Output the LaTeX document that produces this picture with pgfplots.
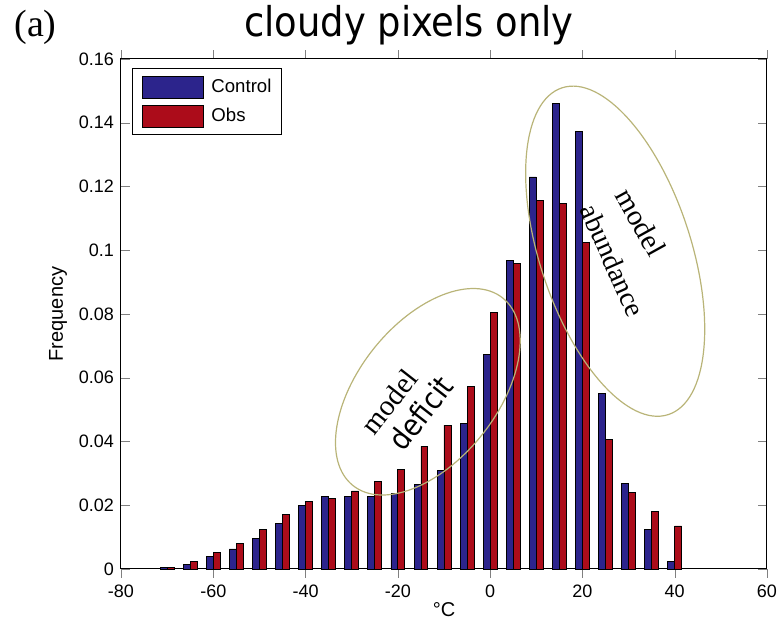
\documentclass[border=0pt]{standalone}
\usepackage{pgfplots}
\pgfplotsset{compat=1.18}
\usepackage{fontspec}
\setmainfont{Liberation Sans}
\newfontfamily\titlefont{DejaVu Sans Condensed}
\newfontfamily\timesfont{Liberation Serif}
\definecolor{cblue}{RGB}{44,36,140}
\definecolor{cred}{RGB}{172,12,26}
\definecolor{ellcol}{RGB}{185,180,120}
\begin{document}
\begin{tikzpicture}
\useasboundingbox (-60.5pt,-26pt) rectangle (328.5pt,284.5pt);
\begin{axis}[
  at={(0pt,0pt)}, anchor=south west,
  scale only axis, width=323pt, height=255pt,
  xmin=-80, xmax=60, ymin=0, ymax=0.16,
  xtick={-80,-60,-40,-20,0,20,40,60},
  ytick={0,0.02,0.04,0.06,0.08,0.1,0.12,0.14,0.16},
  scaled y ticks=false,
  yticklabel style={/pgf/number format/fixed,/pgf/number format/precision=2},
  /pgf/number format/assume math mode=true,
  tick label style={font=\fontsize{9}{10}\selectfont},
  label style={font=\fontsize{9.3}{10}\selectfont},
  xlabel={°C}, ylabel={Frequency},
  every axis x label/.style={at={(axis description cs:0.5,0)}, yshift=-20.5pt, anchor=center},
  every axis y label/.style={at={(axis description cs:0,0.5)}, xshift=-31.5pt, anchor=center, rotate=90},
  axis line style={line width=0.5pt},
  ybar, bar width=1.5,
  clip=false,
  legend style={at={(axis description cs:0.017,0.982)}, anchor=north west,
    draw=black, line width=0.5pt, inner xsep=5pt, inner ysep=3.5pt,
    row sep=3pt, column sep=3.5pt, nodes={inner sep=0pt},
    font=\fontsize{9.3}{10}\selectfont},
  legend cell align=left,
]
\addplot[fill=cblue, draw=black, line width=0.4pt, bar shift=-0.75,
  legend image code/.code={\draw[fill=cblue,draw=black,line width=0.5pt] (0pt,-5.5pt) rectangle (30.5pt,5.5pt);}]
coordinates {
(-70,0.0005) (-65,0.0015) (-60,0.0039) (-55,0.0063) (-50,0.0095) (-45,0.0144)
(-40,0.0198) (-35,0.0227) (-30,0.0227) (-25,0.0227) (-20,0.0236) (-15,0.0264)
(-10,0.0308) (-5,0.0458) (0,0.0672) (5,0.0968) (10,0.1230) (15,0.1461)
(20,0.1372) (25,0.0550) (30,0.0267) (35,0.0125) (40,0.0025)
};
\addplot[fill=cred, draw=black, line width=0.4pt, bar shift=0.75,
  legend image code/.code={\draw[fill=cred,draw=black,line width=0.5pt] (0pt,-5.5pt) rectangle (30.5pt,5.5pt);}]
coordinates {
(-70,0.0004) (-65,0.0025) (-60,0.0053) (-55,0.0081) (-50,0.0125) (-45,0.0172)
(-40,0.0212) (-35,0.0222) (-30,0.0245) (-25,0.0275) (-20,0.0311) (-15,0.0385)
(-10,0.0451) (-5,0.0573) (0,0.0804) (5,0.0958) (10,0.1155) (15,0.1147)
(20,0.1024) (25,0.0406) (30,0.0241) (35,0.0180) (40,0.0135)
};
\legend{Control, Obs}
\draw[ellcol, line width=0.6pt, rotate around={51.4:(axis cs:-13.5,0.0556)}]
  (axis cs:-13.5,0.0556) ellipse [x radius=60pt, y radius=34.6pt];
\draw[ellcol, line width=0.6pt, rotate around={-72:(axis cs:27.1,0.0997)}]
  (axis cs:27.1,0.0997) ellipse [x radius=85.9pt, y radius=37.9pt];
\node[rotate=52, font=\timesfont\fontsize{14.5}{15}\selectfont] at (axis cs:-21.9,0.0525) {model};
\node[rotate=52, font=\titlefont\fontsize{15}{16}\selectfont] at (axis cs:-15.0,0.049) {deficit};
\node[rotate=-61, font=\timesfont\fontsize{14.5}{15}\selectfont] at (axis cs:32.7,0.1088) {model};
\node[rotate=-66, font=\timesfont\fontsize{14}{15}\selectfont] at (axis cs:26.6,0.0968) {abundance};
\end{axis}
\node[anchor=base, font=\titlefont\fontsize{20.5}{22}\selectfont] at (144pt,266pt) {cloudy pixels only};
\node[anchor=base, font=\timesfont\fontsize{19}{20}\selectfont] at (-42.75pt,266pt) {(a)};
\end{tikzpicture}
\end{document}
